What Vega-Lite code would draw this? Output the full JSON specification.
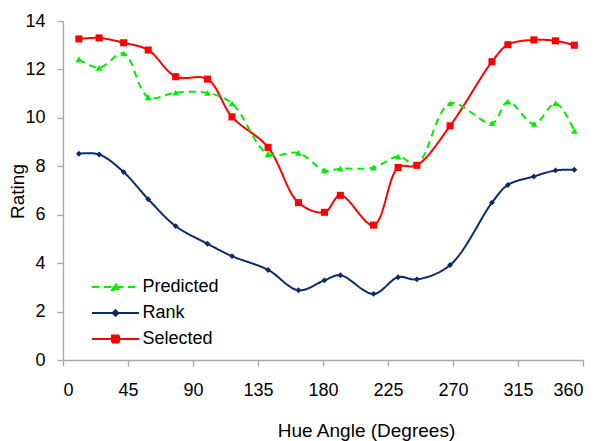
{
  "$schema": "https://vega.github.io/schema/vega-lite/v6.json",
  "width": 520,
  "height": 339,
  "autosize": {"type": "none"},
  "padding": {"left": 63, "top": 21, "right": 21, "bottom": 81},
  "background": "white",
  "config": {
    "view": {"stroke": null},
    "font": "Liberation Sans",
    "axis": {"grid": false, "domainColor": "#a6a6a6", "tickColor": "#a6a6a6", "domainWidth": 1.3, "tickWidth": 1.3, "tickSize": 6, "labelColor": "#000000", "labelFont": "Liberation Sans", "labelFontSize": 18, "titleFont": "Liberation Sans", "titleFontSize": 19, "titleFontWeight": "normal", "titleColor": "#000000"}
  },
  "data": {
    "values": [
      {"hue": 11, "series": "Selected", "rating": 13.26},
      {"hue": 25, "series": "Selected", "rating": 13.3},
      {"hue": 42, "series": "Selected", "rating": 13.1},
      {"hue": 59, "series": "Selected", "rating": 12.8},
      {"hue": 78, "series": "Selected", "rating": 11.7},
      {"hue": 100, "series": "Selected", "rating": 11.6},
      {"hue": 117, "series": "Selected", "rating": 10.04},
      {"hue": 142, "series": "Selected", "rating": 8.78},
      {"hue": 163, "series": "Selected", "rating": 6.5},
      {"hue": 181, "series": "Selected", "rating": 6.1},
      {"hue": 192, "series": "Selected", "rating": 6.8},
      {"hue": 215, "series": "Selected", "rating": 5.57},
      {"hue": 232, "series": "Selected", "rating": 7.95},
      {"hue": 245, "series": "Selected", "rating": 8.04},
      {"hue": 268, "series": "Selected", "rating": 9.67},
      {"hue": 297, "series": "Selected", "rating": 12.32},
      {"hue": 308, "series": "Selected", "rating": 13.02},
      {"hue": 326, "series": "Selected", "rating": 13.22},
      {"hue": 341, "series": "Selected", "rating": 13.18},
      {"hue": 354, "series": "Selected", "rating": 13.0},
      {"hue": 11, "series": "Predicted", "rating": 12.42},
      {"hue": 25, "series": "Predicted", "rating": 12.07},
      {"hue": 42, "series": "Predicted", "rating": 12.66},
      {"hue": 59, "series": "Predicted", "rating": 10.85},
      {"hue": 78, "series": "Predicted", "rating": 11.04},
      {"hue": 100, "series": "Predicted", "rating": 11.03},
      {"hue": 117, "series": "Predicted", "rating": 10.6},
      {"hue": 142, "series": "Predicted", "rating": 8.5},
      {"hue": 163, "series": "Predicted", "rating": 8.55},
      {"hue": 181, "series": "Predicted", "rating": 7.83},
      {"hue": 192, "series": "Predicted", "rating": 7.9},
      {"hue": 215, "series": "Predicted", "rating": 7.95},
      {"hue": 232, "series": "Predicted", "rating": 8.4},
      {"hue": 245, "series": "Predicted", "rating": 8.09},
      {"hue": 268, "series": "Predicted", "rating": 10.6},
      {"hue": 297, "series": "Predicted", "rating": 9.78},
      {"hue": 308, "series": "Predicted", "rating": 10.67},
      {"hue": 326, "series": "Predicted", "rating": 9.75},
      {"hue": 341, "series": "Predicted", "rating": 10.6},
      {"hue": 354, "series": "Predicted", "rating": 9.46},
      {"hue": 11, "series": "Rank", "rating": 8.52},
      {"hue": 25, "series": "Rank", "rating": 8.49},
      {"hue": 42, "series": "Rank", "rating": 7.76},
      {"hue": 59, "series": "Rank", "rating": 6.64},
      {"hue": 78, "series": "Rank", "rating": 5.53},
      {"hue": 100, "series": "Rank", "rating": 4.8},
      {"hue": 117, "series": "Rank", "rating": 4.29},
      {"hue": 142, "series": "Rank", "rating": 3.72},
      {"hue": 163, "series": "Rank", "rating": 2.88},
      {"hue": 181, "series": "Rank", "rating": 3.29},
      {"hue": 192, "series": "Rank", "rating": 3.5},
      {"hue": 215, "series": "Rank", "rating": 2.73},
      {"hue": 232, "series": "Rank", "rating": 3.42},
      {"hue": 245, "series": "Rank", "rating": 3.33},
      {"hue": 268, "series": "Rank", "rating": 3.92},
      {"hue": 297, "series": "Rank", "rating": 6.5},
      {"hue": 308, "series": "Rank", "rating": 7.23},
      {"hue": 326, "series": "Rank", "rating": 7.58},
      {"hue": 341, "series": "Rank", "rating": 7.83},
      {"hue": 354, "series": "Rank", "rating": 7.86}
    ]
  },
  "encoding": {
    "x": {"field": "hue", "type": "quantitative", "title": "Hue Angle (Degrees)",
      "scale": {"domain": [0, 360], "nice": false},
      "axis": {"values": [0, 45, 90, 135, 180, 225, 270, 315, 360], "labelPadding": 15, "titleX": 303, "titleY": 61, "titleBaseline": "top"}},
    "y": {"field": "rating", "type": "quantitative", "title": "Rating",
      "scale": {"domain": [0, 14], "nice": false},
      "axis": {"values": [0, 2, 4, 6, 8, 10, 12, 14], "labelPadding": 12, "titleX": -46, "titleY": 170, "titleAngle": -90, "titleBaseline": "middle", "titleAlign": "center"}}
  },
  "layer": [
    {
      "mark": {"type": "line", "interpolate": "catmull-rom", "strokeWidth": 2},
      "encoding": {
        "color": {"field": "series", "type": "nominal",
          "scale": {"domain": ["Predicted", "Rank", "Selected"], "range": ["#00ee00", "#0c2a6a", "#ff0000"]},
          "legend": {
            "title": null, "orient": "none", "legendX": 43.5, "legendY": 257,
            "symbolType": "M-4.7,0H4.7", "symbolSize": 100, "symbolStrokeWidth": 2,
            "labelOffset": 18, "rowPadding": 8, "labelFontSize": 18, "labelFont": "Liberation Sans", "labelColor": "#000000",
            "encode": {"symbols": {"update": {
              "shape": {"signal": "datum.value === 'Predicted' ? 'M-4.7,0H4.7M0,-0.7L0.7,0.6H-0.7Z' : datum.value === 'Rank' ? 'M-4.7,0H4.7M0,-0.55L0.55,0L0,0.55L-0.55,0Z' : 'M-4.7,0H4.7M-0.7,-0.7H0.7V0.7H-0.7Z'"},
              "fill": {"signal": "datum.value === 'Predicted' ? '#00ee00' : datum.value === 'Rank' ? '#0c2a6a' : '#ff0000'"},
              "fillOpacity": {"value": 1}
            }}}
          }},
        "strokeDash": {"field": "series", "type": "nominal",
          "scale": {"domain": ["Predicted", "Rank", "Selected"], "range": [[7, 5], [1, 0], [1, 0]]}}
      }
    },
    {
      "transform": [{"filter": "datum.series === 'Predicted'"}],
      "mark": {"type": "point", "filled": true, "opacity": 1, "shape": "triangle-up", "size": 45, "color": "#00ee00"}
    },
    {
      "transform": [{"filter": "datum.series === 'Rank'"}],
      "mark": {"type": "point", "filled": true, "opacity": 1, "shape": "diamond", "size": 35, "color": "#0c2a6a"}
    },
    {
      "transform": [{"filter": "datum.series === 'Selected'"}],
      "mark": {"type": "point", "filled": true, "opacity": 1, "shape": "square", "size": 50, "color": "#ff0000"}
    }
  ]
}
